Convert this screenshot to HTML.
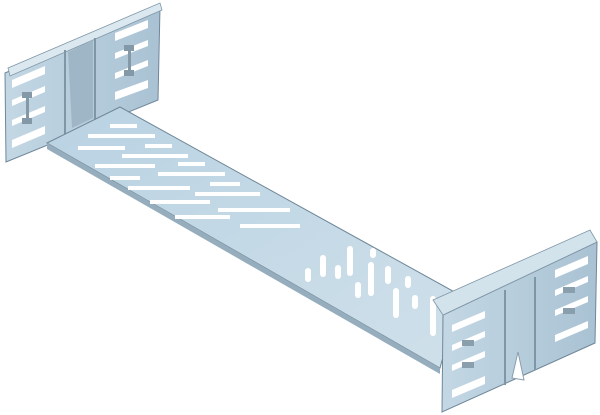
<!DOCTYPE html>
<html><head><meta charset="utf-8"><style>html,body{margin:0;padding:0;background:#fff;width:600px;height:415px;overflow:hidden}</style></head>
<body>
<svg width="600" height="415" viewBox="0 0 600 415" xmlns="http://www.w3.org/2000/svg">
<defs>
<linearGradient id="fl" x1="0" y1="0" x2="1" y2="1"><stop offset="0" stop-color="#b9d2e2"/><stop offset="1" stop-color="#cfe0ea"/></linearGradient>
<linearGradient id="pl" x1="0" y1="0" x2="1" y2="0"><stop offset="0" stop-color="#c3d7e4"/><stop offset="1" stop-color="#a9c2d3"/></linearGradient>
</defs>
<!-- left plate -->
<polygon points="5,73 160,7 158,100 6,162" fill="url(#pl)" stroke="#6f8798" stroke-width="1"/>
<polygon points="8,68 160,3 162,10 10,76" fill="#dbe8f0" stroke="#7f96a6" stroke-width="0.8"/>
<line x1="65" y1="50" x2="65" y2="140" stroke="#7f96a6" stroke-width="2"/>
<line x1="95" y1="38" x2="95" y2="125" stroke="#7f96a6" stroke-width="2"/>
<polygon points="68,52 93,40 93,118 72,128" fill="#9fb6c6"/>
<g fill="#fff">
<polygon points="12,80 45,66 45,74 12,88"/><polygon points="12,100 45,86 45,92 12,106"/>
<polygon points="12,120 45,106 45,112 12,126"/><polygon points="12,140 45,126 45,134 12,148"/>
<polygon points="115,33 148,20 148,28 115,41"/><polygon points="115,53 148,40 148,46 115,59"/>
<polygon points="115,73 148,60 148,66 115,79"/><polygon points="115,92 148,80 148,88 115,100"/>
</g>
<g fill="#8399a8"><rect x="22" y="92" width="10" height="6"/><rect x="26" y="98" width="3" height="22"/><rect x="22" y="118" width="10" height="6"/>
<rect x="124" y="45" width="10" height="6"/><rect x="128" y="51" width="3" height="20"/><rect x="124" y="70" width="10" height="6"/></g>
<!-- floor -->
<polygon points="47,143 120,107 460,295 440,368" fill="url(#fl)" stroke="#6f8798" stroke-width="1"/>
<polygon points="47,143 440,368 440,374 47,149" fill="#95adbd"/>
<g fill="#fff">
<polygon points="110,124 137,124 137,128 110,128"/><polygon points="88,134 155,134 155,138 88,138"/>
<polygon points="78,146 125,146 125,150 78,150"/><polygon points="145,144 172,144 172,148 145,148"/>
<polygon points="122,154 188,154 188,158 122,158"/><polygon points="95,164 155,164 155,168 95,168"/>
<polygon points="178,162 205,162 205,166 178,166"/><polygon points="158,172 225,172 225,176 158,176"/>
<polygon points="110,176 140,176 140,180 110,180"/><polygon points="128,186 190,186 190,190 128,190"/>
<polygon points="210,182 240,182 240,186 210,186"/><polygon points="195,192 260,192 260,196 195,196"/>
<polygon points="150,200 210,200 210,204 150,204"/><polygon points="218,208 290,208 290,212 218,212"/>
<polygon points="175,215 230,215 230,219 175,219"/><polygon points="240,224 300,224 300,228 240,228"/>
</g>
<g fill="#fff">
<rect x="320" y="255" width="6" height="22" rx="3"/><rect x="335" y="265" width="6" height="14" rx="3"/>
<rect x="347" y="246" width="6" height="30" rx="3"/><rect x="355" y="282" width="6" height="16" rx="3"/>
<rect x="368" y="262" width="6" height="34" rx="3"/><rect x="370" y="248" width="6" height="10" rx="3"/>
<rect x="385" y="266" width="6" height="18" rx="3"/><rect x="393" y="288" width="6" height="30" rx="3"/>
<rect x="405" y="276" width="6" height="12" rx="3"/><rect x="412" y="295" width="6" height="14" rx="3"/>
<rect x="430" y="296" width="6" height="40" rx="3"/><rect x="305" y="268" width="6" height="14" rx="3"/>
</g>
<!-- right plate -->
<polygon points="443,315 597,242 595,343 442,412" fill="url(#pl)" stroke="#6f8798" stroke-width="1"/>
<polygon points="433,300 590,230 597,242 443,315" fill="#d3e3ec" stroke="#7f96a6" stroke-width="0.8"/>
<line x1="505" y1="290" x2="505" y2="385" stroke="#7f96a6" stroke-width="2"/>
<line x1="535" y1="277" x2="535" y2="370" stroke="#7f96a6" stroke-width="2"/>
<g fill="#fff">
<polygon points="452,325 485,311 485,318 452,332"/><polygon points="452,345 485,331 485,337 452,351"/>
<polygon points="452,365 485,351 485,357 452,371"/><polygon points="452,390 485,376 485,384 452,398"/>
<polygon points="555,270 588,256 588,264 555,278"/><polygon points="555,290 588,276 588,282 555,296"/>
<polygon points="555,310 588,296 588,302 555,316"/><polygon points="555,335 588,321 588,328 555,342"/>
</g>
<g fill="#8a9fae"><rect x="462" y="340" width="12" height="6"/><rect x="462" y="362" width="12" height="6"/>
<rect x="563" y="287" width="12" height="6"/><rect x="563" y="308" width="12" height="6"/></g>
<polygon points="512,378 518,352 524,380" fill="#fff" stroke="#8a9fae" stroke-width="1"/>
</svg>
</body></html>
